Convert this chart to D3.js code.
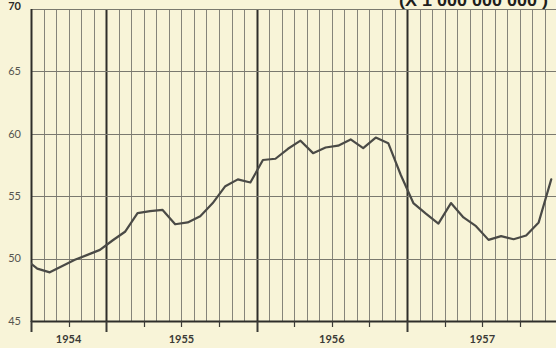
<!DOCTYPE html>
<html>
<head>
<meta charset="utf-8">
<script src="https://cdn.jsdelivr.net/npm/d3@7"></script>
<style>
  html, body { margin: 0; padding: 0; background: #f8f4d8; }
  svg { display: block; }
</style>
</head>
<body>
<svg id="chart" width="556" height="348"></svg>
<script>
// Monthly values, June 1954 through December 1957 (plotted at mid-month)
const firstMonth = { year: 1954, month: 6 };
const values = [
  50.0,                                              // Jun 1954
  49.2, 48.9, 49.4, 49.9, 50.3, 50.7,                // Jul–Dec 1954
  51.45, 52.15, 53.65, 53.8, 53.9, 52.75,            // Jan–Jun 1955
  52.9, 53.4, 54.45, 55.8, 56.35, 56.1,              // Jul–Dec 1955
  57.9, 58.0, 58.8, 59.45, 58.45, 58.9,              // Jan–Jun 1956
  59.05, 59.55, 58.85, 59.7, 59.25, 56.7,            // Jul–Dec 1956
  54.45, 53.6, 52.8, 54.45, 53.3, 52.6,              // Jan–Jun 1957
  51.5, 51.8, 51.55, 51.85, 52.9, 56.35              // Jul–Dec 1957
];
const yearLabels = ["1954", "1955", "1956", "1957"];
const yTicks = [45, 50, 55, 60, 65, 70];
const unitLabel = "(X 1 000 000 000 )";

// Horizontal axis runs in months, counted from 1 July 1954 to 1 January 1958
const axisStart = { year: 1954, month: 7 };
const monthCount = 42;
const monthIndex = (yr, m) => (yr - axisStart.year) * 12 + (m - axisStart.month);

const svg = d3.select("#chart");
const plotLeft = 31, plotRight = 557.5, plotTop = 9, plotBottom = 321;

const x = d3.scaleLinear().domain([0, monthCount]).range([plotLeft, plotRight]);
const y = d3.scaleLinear().domain([45, 70]).range([plotBottom, plotTop]);

const crisp = v => Math.round(v) + 0.5;

// Month grid lines; each January is drawn heavier
const gridG = svg.append("g");
d3.range(0, monthCount + 1).forEach(i => {
  const isYear = (i + axisStart.month - 1) % 12 === 0;
  gridG.append("line")
    .attr("x1", crisp(x(i))).attr("x2", crisp(x(i)))
    .attr("y1", plotTop).attr("y2", plotBottom)
    .attr("stroke", isYear ? "#2e2e2a" : "#85847a")
    .attr("stroke-width", isYear ? 2 : 1);
});

// Value grid lines
yTicks.forEach(v => {
  const base = v === 45;
  gridG.append("line")
    .attr("x1", plotLeft).attr("x2", 556)
    .attr("y1", crisp(y(v))).attr("y2", crisp(y(v)))
    .attr("stroke", base ? "#2e2e2a" : "#7a796f")
    .attr("stroke-width", base ? 2 : 1);
});

// Left frame
gridG.append("line")
  .attr("x1", crisp(plotLeft)).attr("x2", crisp(plotLeft))
  .attr("y1", plotTop).attr("y2", plotBottom + 1)
  .attr("stroke", "#2e2e2a").attr("stroke-width", 2);

// Quarter ticks below the base line, longer at year boundaries
d3.range(0, monthCount + 1, 3).forEach(i => {
  const isYear = (i + axisStart.month - 1) % 12 === 0 || i === 0;
  gridG.append("line")
    .attr("x1", crisp(x(i))).attr("x2", crisp(x(i)))
    .attr("y1", plotBottom).attr("y2", plotBottom + (isYear ? 11 : 6))
    .attr("stroke", "#3a3a36")
    .attr("stroke-width", isYear ? 2 : 1.2);
});

// Y tick labels
svg.append("g").selectAll("text")
  .data(yTicks)
  .join("text")
  .attr("x", 21)
  .attr("y", d => y(d) + (d === 70 ? -3 : 0))
  .attr("dy", "0.35em")
  .attr("text-anchor", "end")
  .attr("font-family", "Lato, 'Open Sans', sans-serif")
  .attr("font-size", 11)
  .attr("font-weight", d => d === 70 ? 700 : 400)
  .attr("fill", d => d === 70 ? "#2a2a28" : "#55554f")
  .text(d => d);

// Year labels centred on the visible part of each year
svg.append("g").selectAll("text")
  .data(yearLabels)
  .join("text")
  .attr("x", d => {
    const a = Math.max(0, monthIndex(+d, 1));
    const b = Math.min(monthCount, monthIndex(+d + 1, 1));
    return x((a + b) / 2);
  })
  .attr("y", 343)
  .attr("text-anchor", "middle")
  .attr("font-family", "Lato, 'Open Sans', sans-serif")
  .attr("font-size", 11)
  .attr("font-weight", 700)
  .attr("fill", "#3a3a36")
  .text(d => d);

// Unit note at the top right, running off the top edge of the sheet
svg.append("text")
  .attr("x", 399).attr("y", 6)
  .attr("textLength", 149)
  .attr("lengthAdjust", "spacingAndGlyphs")
  .attr("font-family", "'Liberation Sans', Arial, sans-serif")
  .attr("font-size", 17)
  .attr("font-weight", 700)
  .attr("fill", "#1e1e1c")
  .text(unitLabel);

// Series line, clipped to the plot frame
svg.append("clipPath").attr("id", "plot-clip")
  .append("rect")
  .attr("x", plotLeft).attr("y", plotTop)
  .attr("width", plotRight - plotLeft).attr("height", plotBottom - plotTop);

const points = values.map((v, k) => {
  const idx = monthIndex(firstMonth.year, firstMonth.month) + k + 0.5;
  return [idx, v];
});

const line = d3.line()
  .x(d => x(d[0]))
  .y(d => y(d[1]));

svg.append("path")
  .datum(points)
  .attr("clip-path", "url(#plot-clip)")
  .attr("fill", "none")
  .attr("stroke", "#4a4a46")
  .attr("stroke-width", 2.2)
  .attr("stroke-linejoin", "round")
  .attr("stroke-linecap", "round")
  .attr("d", line);
</script>
</body>
</html>
